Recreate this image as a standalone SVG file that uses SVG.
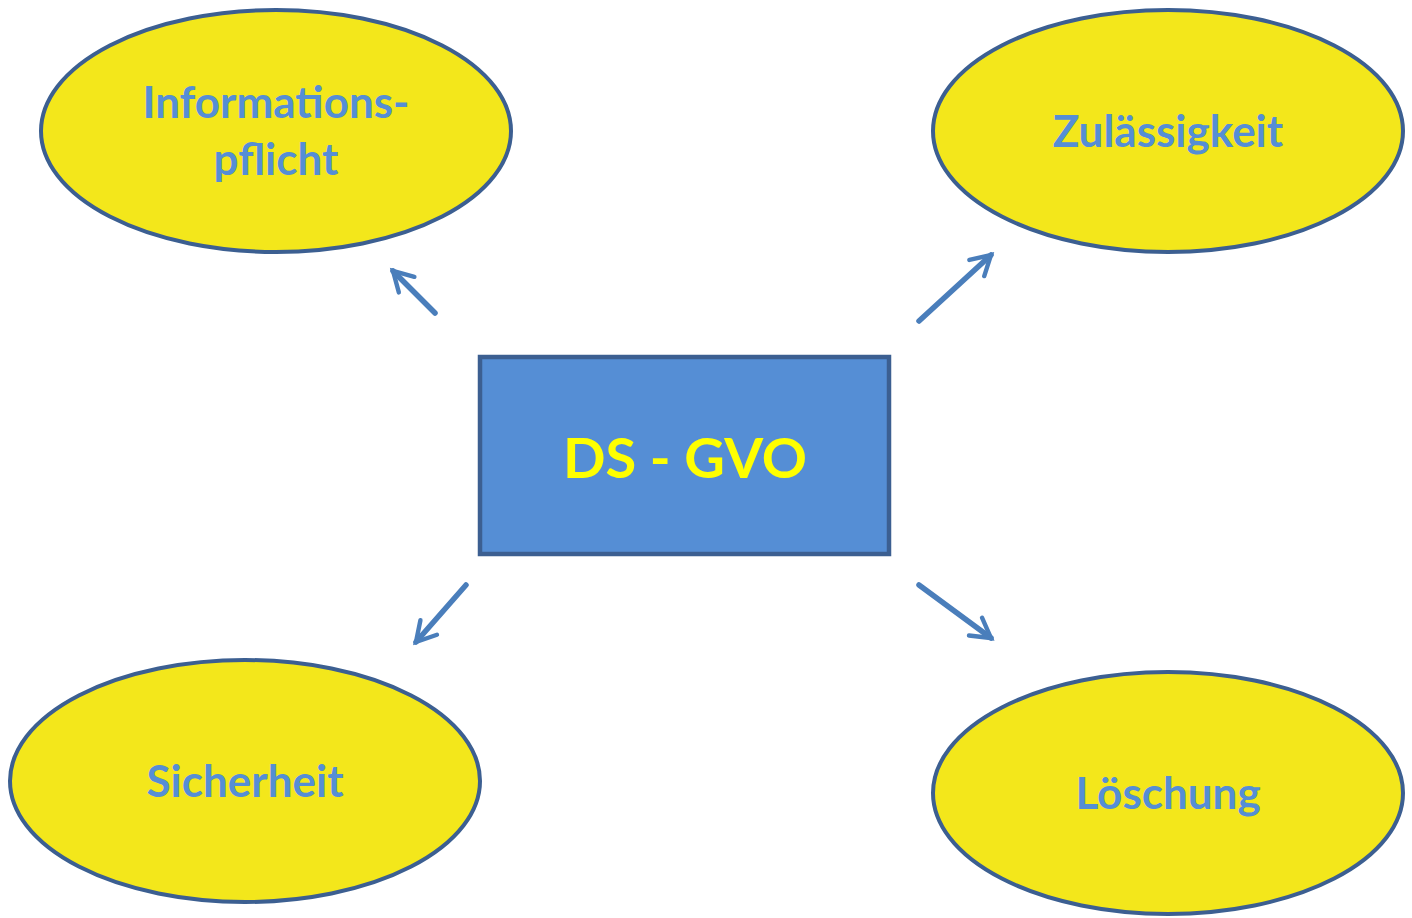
<svg xmlns="http://www.w3.org/2000/svg" width="1412" height="918" viewBox="0 0 1412 918">
<defs>
<style>
.oval{fill:#f3e71b;stroke:#3c5f91;stroke-width:4}
.lbl{font-family:Lato,"Open Sans","Liberation Sans",sans-serif;font-weight:bold;font-size:44px;fill:#558ed5;text-anchor:middle}
.main{font-family:Lato,"Open Sans","Liberation Sans",sans-serif;font-weight:bold;font-size:56px;fill:#ffff00;text-anchor:middle}
.conn{stroke:#4a7ebb;stroke-width:5.5;fill:none;stroke-linecap:round}
</style>
<marker id="ah" viewBox="0 0 10 10" refX="8" refY="5" markerWidth="5" markerHeight="5" orient="auto" markerUnits="strokeWidth">
<path d="M1,1 L8,5 L1,9" fill="none" stroke="#4a7ebb" stroke-width="1.6" stroke-linecap="round" stroke-linejoin="miter"/>
</marker>
</defs>
<rect width="1412" height="918" fill="#ffffff"/>
<g id="node-center">
<rect x="480" y="357" width="409" height="197" fill="#558ed5" stroke="#3c5f91" stroke-width="4.5"/>
<text class="main" x="685" y="478">DS - GVO</text>
</g>
<g id="node-informationspflicht">
<ellipse class="oval" cx="276" cy="131" rx="235" ry="121"/>
<text class="lbl" x="276" y="118">Informations-</text>
<text class="lbl" x="276" y="175">pflicht</text>
</g>
<g id="node-zulaessigkeit">
<ellipse class="oval" cx="1168" cy="131" rx="235" ry="121"/>
<text class="lbl" x="1168" y="147">Zulässigkeit</text>
</g>
<g id="node-sicherheit">
<ellipse class="oval" cx="245" cy="781" rx="235" ry="121"/>
<text class="lbl" x="245" y="797">Sicherheit</text>
</g>
<g id="node-loeschung">
<ellipse class="oval" cx="1168" cy="793" rx="235" ry="121"/>
<text class="lbl" x="1168" y="809">Löschung</text>
</g>
<g id="connectors">
<line class="conn" x1="435" y1="313" x2="393" y2="271" marker-end="url(#ah)"/>
<line class="conn" x1="919" y1="321" x2="991" y2="255" marker-end="url(#ah)"/>
<line class="conn" x1="466" y1="585" x2="416" y2="642" marker-end="url(#ah)"/>
<line class="conn" x1="919" y1="585" x2="991" y2="638" marker-end="url(#ah)"/>
</g>
</svg>
